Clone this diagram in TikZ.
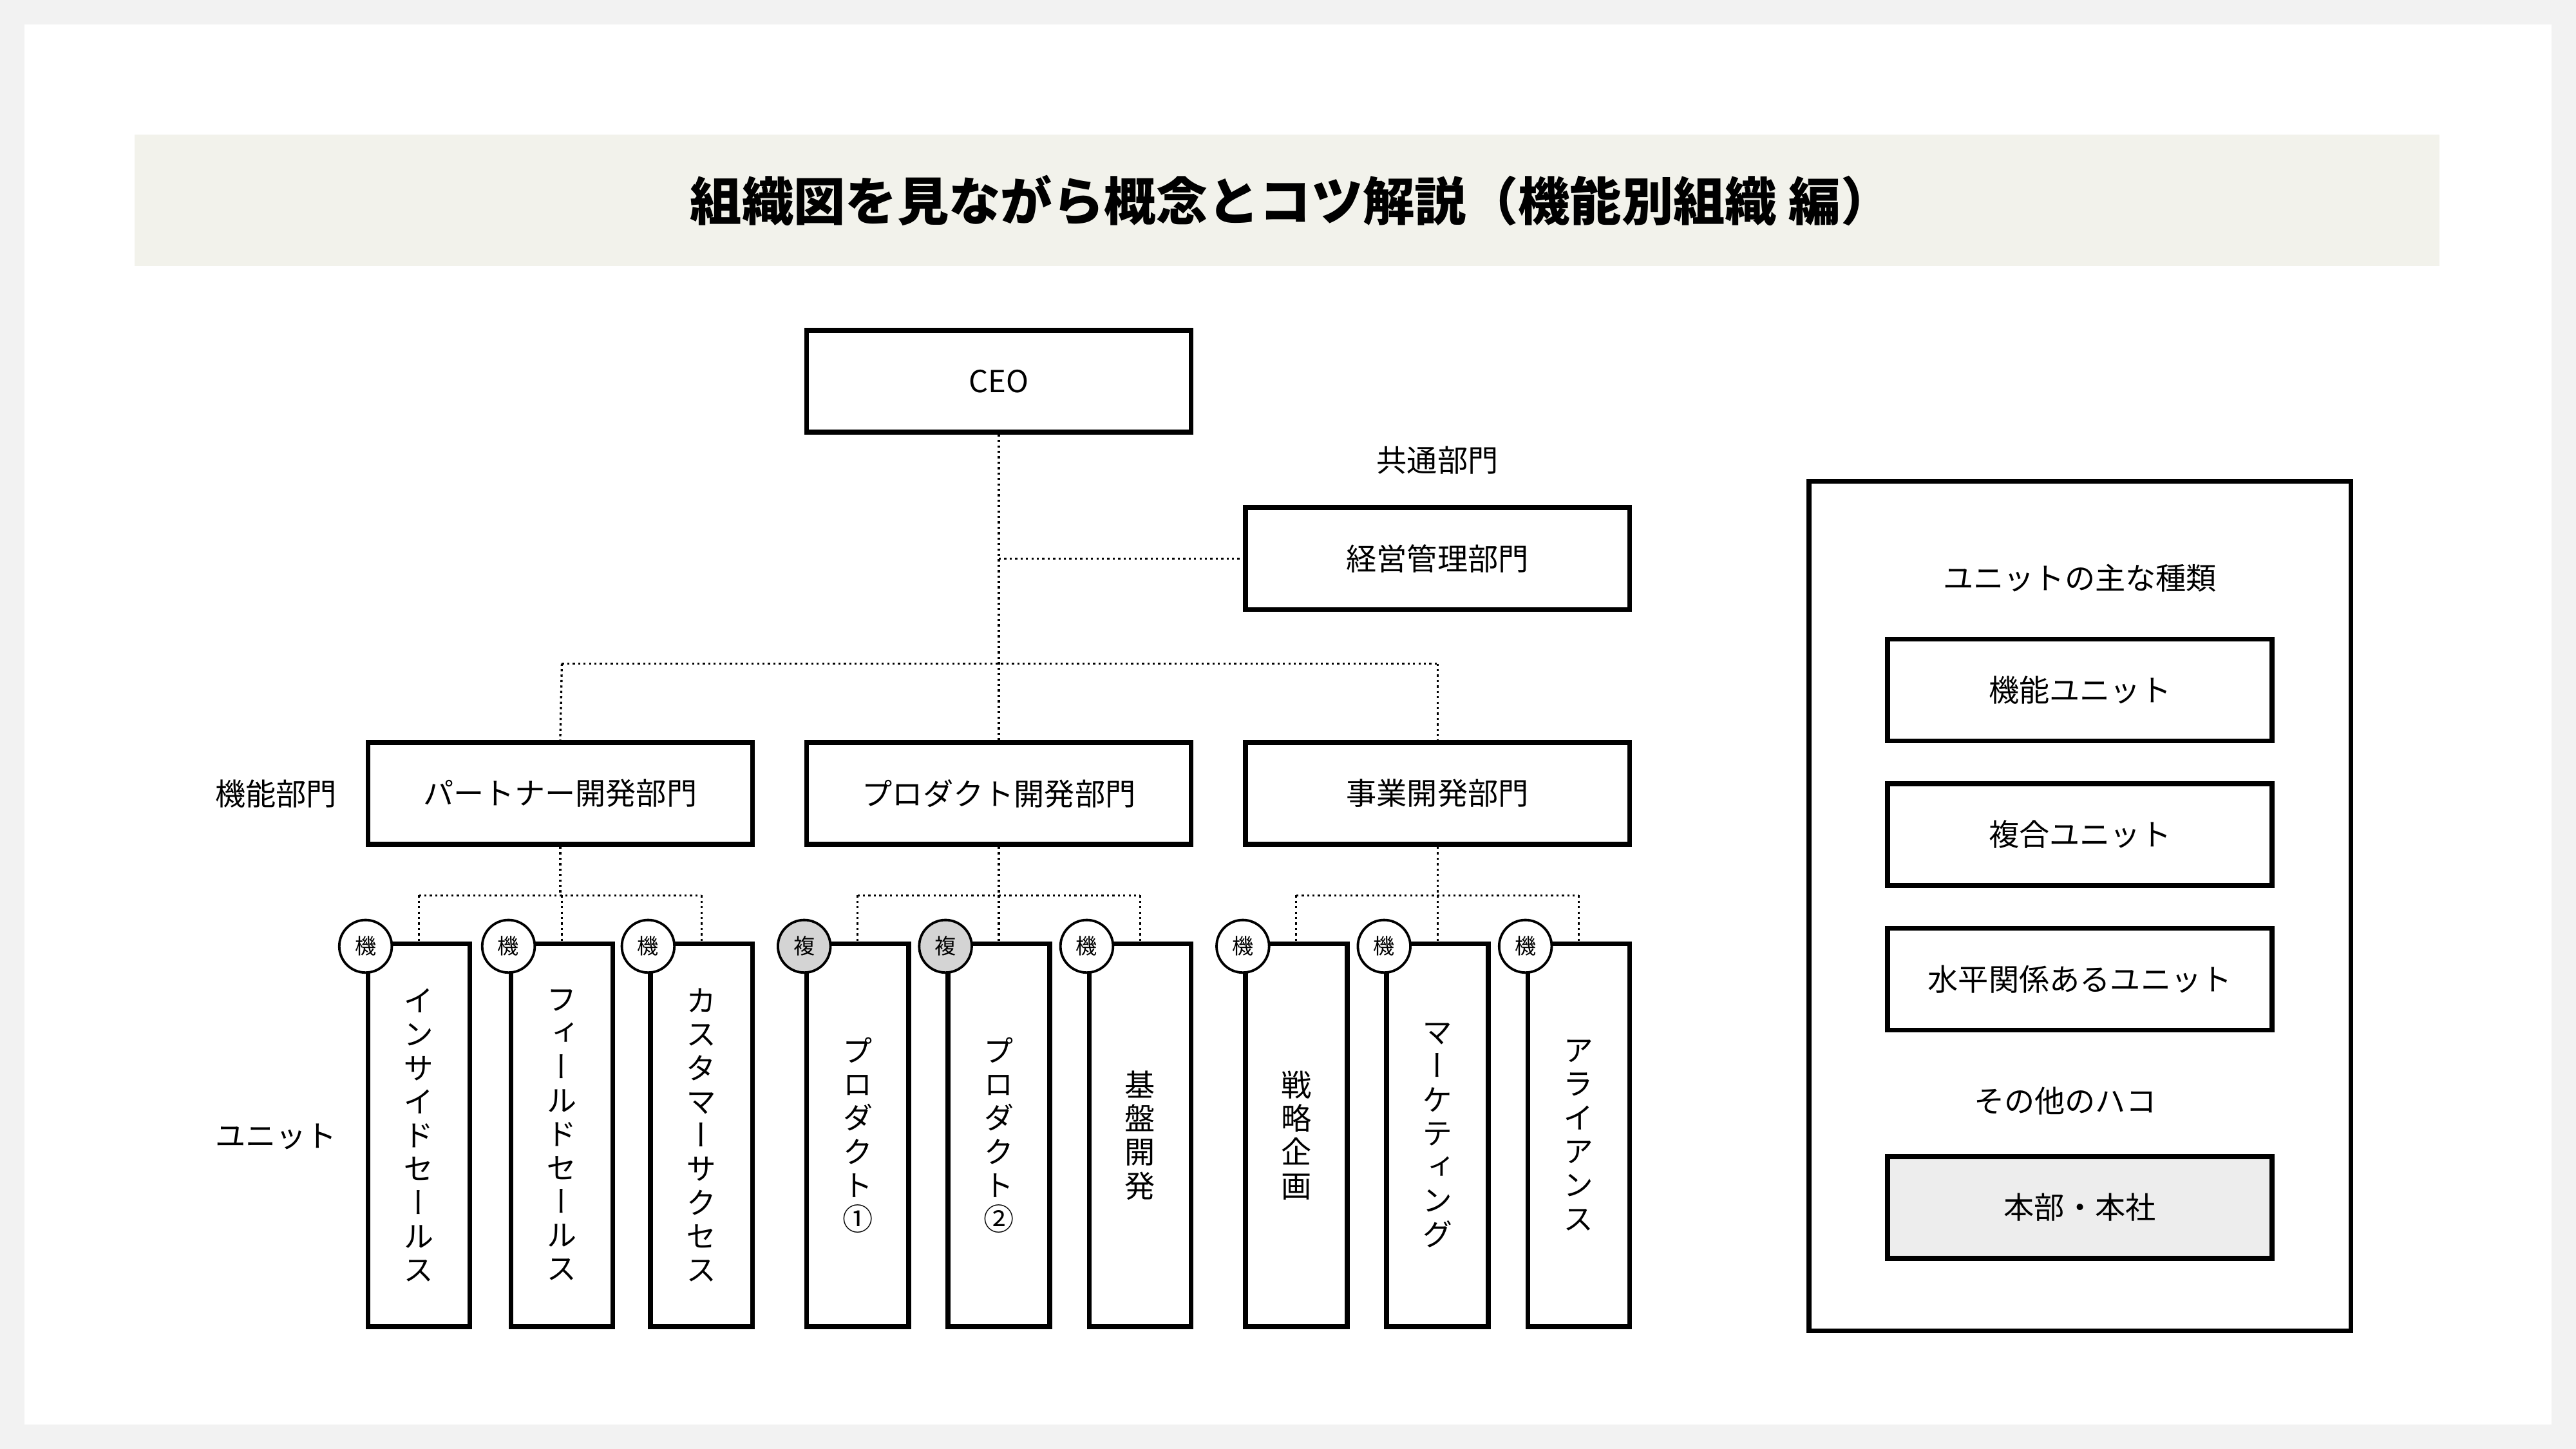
\documentclass[tikz,border=0pt]{standalone}
\usepackage{fontspec}
\setmainfont{Noto Sans CJK JP}
\newfontfamily\cjkv[RawFeature=+vert]{Noto Sans CJK JP}
\tikzset{
  box/.style={draw=black,line width=3pt,fill=white,minimum width=234pt,minimum height=62pt,inner sep=0pt,font=\fontsize{18.5}{22}\selectfont},
  unitbox/.style={draw=black,line width=3pt,fill=white,minimum width=62pt,minimum height=233pt,inner sep=0pt,align=center,font=\cjkv\fontsize{18.5}{20.5}\selectfont},
  badge/.style={circle,draw=black,line width=1.5pt,fill=white,minimum size=32pt,inner sep=0pt,font=\fontsize{13}{13}\selectfont},
  gbadge/.style={badge,fill=black!17},
  lbl/.style={font=\fontsize{18.5}{22}\selectfont},
  conn/.style={line width=1.3pt,dotted},
}
\begin{document}
\begin{tikzpicture}[x=1pt,y=-1pt]
\fill[black!5] (0,0) rectangle (1568,882);
\useasboundingbox (0,0) rectangle (1568,882);
\fill[white] (15,15) rectangle (1553,867);
\fill[black!6!white!97!yellow] (82,82) rectangle (1485,162);
\node[font=\fontsize{31.5}{34}\selectfont\bfseries] (title) at (786,122) {組織図を見ながら概念とコツ解説（機能別組織 編）};

\node[box] (ceo) at (608,232) {CEO};
\node[lbl] (kyotsu) at (875,280) {共通部門};
\node[box] (keiei) at (875,340) {経営管理部門};
\node[box] (d1) at (341,483) {パートナー開発部門};
\node[box] (d2) at (608,483) {プロダクト開発部門};
\node[box] (d3) at (875,483) {事業開発部門};
\node[lbl] (kinou) at (168,483) {機能部門};
\node[lbl] (unitlbl) at (168,692) {ユニット};

\coordinate (jk) at (608,340);
\coordinate (jl) at (342,404);
\coordinate (jr) at (875,404);
\draw[conn] (ceo.south) -- (d2.north);
\draw[conn] (jk) -- (keiei.west);
\draw[conn] (jl) -- (jr);
\draw[conn] (jl) -- (d1.north);
\draw[conn] (jr) -- (d3.north);

\foreach \n/\x/\t in {u1/255/イ\\ン\\サ\\イ\\ド\\セ\\ー\\ル\\ス, u2/342/フ\\ィ\\ー\\ル\\ド\\セ\\ー\\ル\\ス, u3/427/カ\\ス\\タ\\マ\\ー\\サ\\ク\\セ\\ス,
  u4/522/プ\\ロ\\ダ\\ク\\ト\\①, u5/608/プ\\ロ\\ダ\\ク\\ト\\②, u6/694/基\\盤\\開\\発,
  u7/789/戦\\略\\企\\画, u8/875/マ\\ー\\ケ\\テ\\ィ\\ン\\グ, u9/961/ア\\ラ\\イ\\ア\\ン\\ス}
  {\node[unitbox] (\n) at (\x,691) {\t};}

\foreach \d/\a/\b/\c in {d1/u1/u2/u3, d2/u4/u5/u6, d3/u7/u8/u9}{
  \draw[conn] (\d.south) -- (\d.south |- 0,545);
  \draw[conn] (\a.north |- 0,545) -- (\c.north |- 0,545);
  \draw[conn] (\a.north |- 0,545) -- (\a.north);
  \draw[conn] (\b.north |- 0,545) -- (\b.north);
  \draw[conn] (\c.north |- 0,545) -- (\c.north);
}
\foreach \u in {u1,u2,u3,u6,u7,u8,u9}{\node[badge,yshift=-3pt] (\u b) at (\u.north west) {機};}
\foreach \u in {u4,u5}{\node[gbadge,yshift=-3pt] (\u b) at (\u.north west) {複};}

\node[draw=black,line width=3pt,minimum width=330pt,minimum height=517pt,inner sep=0pt] (panel) at (1266,551.5) {};
\node[lbl] (ptitle) at (1266,352) {ユニットの主な種類};
\node[box] (k1) at (1266,420) {機能ユニット};
\node[box] (k2) at (1266,508) {複合ユニット};
\node[box] (k3) at (1266,596) {水平関係あるユニット};
\node[lbl] (other) at (1257,670) {その他のハコ};
\node[box,fill=black!7] (k4) at (1266,735) {本部・本社};
\end{tikzpicture}
\end{document}
